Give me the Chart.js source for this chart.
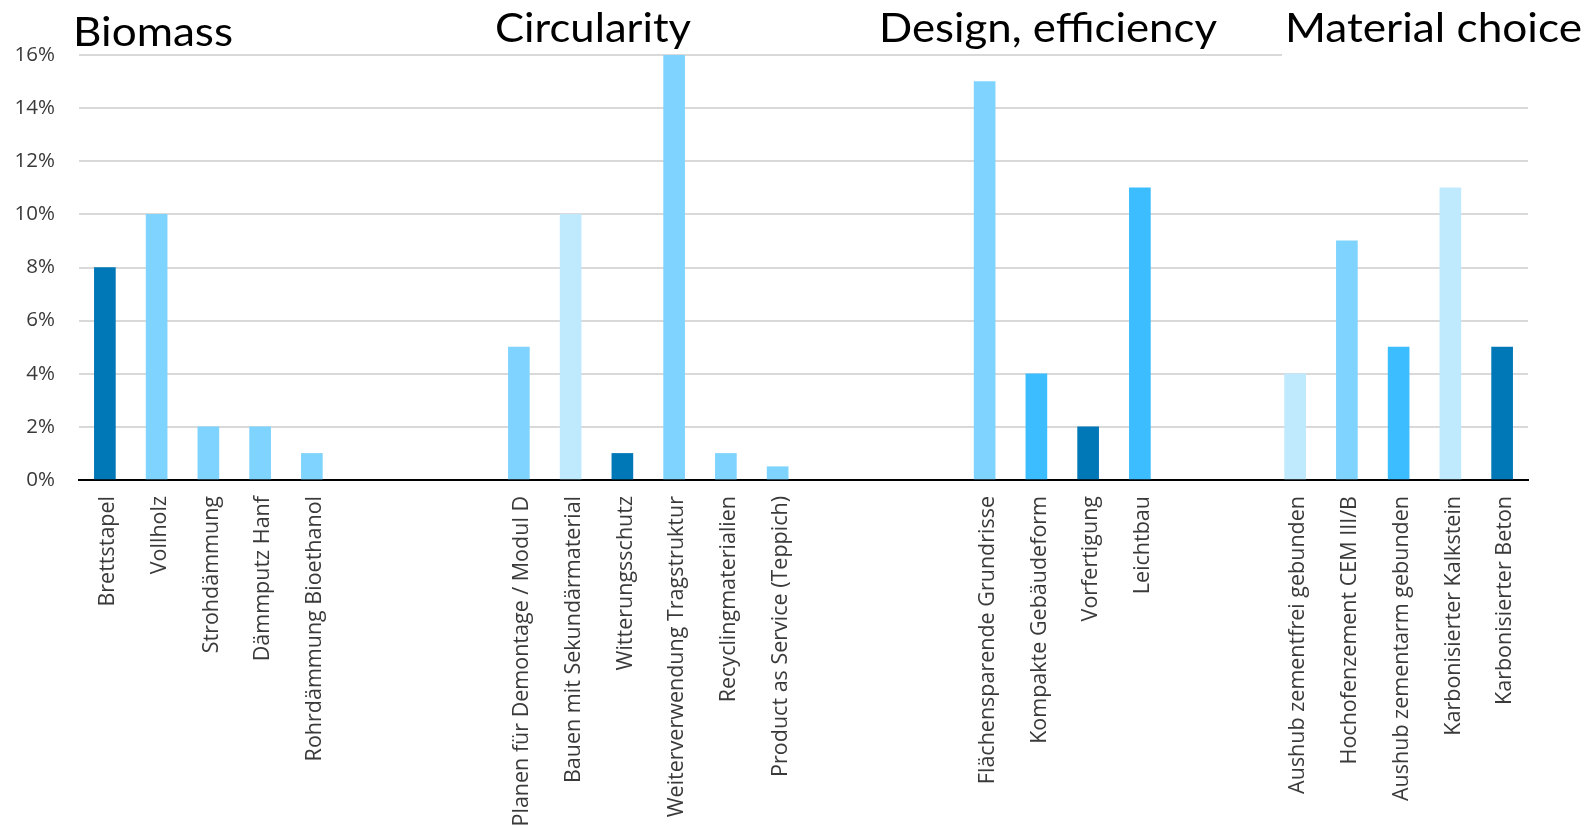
<!DOCTYPE html>
<html>
<head>
<meta charset="utf-8">
<script src="https://cdn.jsdelivr.net/npm/chart.js@4/dist/chart.umd.min.js"></script>
<style>
  html, body { margin: 0; padding: 0; background: #ffffff; }
  #wrap { width: 1587px; height: 829px; position: relative; }
</style>
</head>
<body>
<div id="wrap"><canvas id="chart"></canvas></div>
<script>
// Measures per category; empty strings are spacer slots between the groups.
const categories = [
  'Brettstapel', 'Vollholz', 'Strohdämmung', 'Dämmputz Hanf', 'Rohrdämmung Bioethanol',
  '', '', '',
  'Planen für Demontage / Modul D', 'Bauen mit Sekundärmaterial', 'Witterungsschutz',
  'Weiterverwendung Tragstruktur', 'Recyclingmaterialien', 'Product as Service (Teppich)',
  '', '', '',
  'Flächensparende Grundrisse', 'Kompakte Gebäudeform', 'Vorfertigung', 'Leichtbau',
  '', '',
  'Aushub zementfrei gebunden', 'Hochofenzement CEM III/B', 'Aushub zementarm gebunden',
  'Karbonisierter Kalkstein', 'Karbonisierter Beton'
];

// Share in percent
const shares = [
  8, 10, 2, 2, 1,
  null, null, null,
  5, 10, 1, 16, 1, 0.5,
  null, null, null,
  15, 4, 2, 11,
  null, null,
  4, 9, 5, 11, 5
];

// Shade of each bar
const shades = [
  'dark', 'light', 'light', 'light', 'light',
  null, null, null,
  'light', 'pale', 'dark', 'light', 'light', 'light',
  null, null, null,
  'light', 'mid', 'dark', 'mid',
  null, null,
  'pale', 'light', 'mid', 'pale', 'dark'
];

const groupTitles = ['Biomass', 'Circularity', 'Design, efficiency', 'Material choice'];

const yTicks = [0, 2, 4, 6, 8, 10, 12, 14, 16];

const palette = {
  dark: '#0077B6',
  light: '#7FD4FF',
  pale: '#BFE9FD',
  mid: '#3BBDFF'
};

// Group headings above the plot; the last one sits on a white box.
const titlePlugin = {
  id: 'groupTitles',
  afterDraw(chart, args, opts) {
    const ctx = chart.ctx;
    ctx.save();
    ctx.font = opts.font;
    ctx.textBaseline = 'alphabetic';
    ctx.textAlign = 'left';
    groupTitles.forEach((t, i) => {
      const p = opts.place[i];
      if (p.box) {
        ctx.fillStyle = '#ffffff';
        ctx.fillRect(p.x - 3, 0, chart.width - p.x + 3, 60);
      }
      const w = ctx.measureText(t).width;
      const sx = p.w / w;
      ctx.save();
      ctx.translate(p.x, p.y);
      ctx.scale(sx, 1);
      ctx.fillStyle = '#000000';
      ctx.fillText(t, 0, 0);
      ctx.restore();
    });
    ctx.restore();
  }
};

const ctx = document.getElementById('chart').getContext('2d');
new Chart(ctx, {
  type: 'bar',
  data: {
    labels: categories,
    datasets: [{
      data: shares,
      backgroundColor: shades.map(s => s ? palette[s] : 'rgba(0,0,0,0)'),
      borderWidth: 0,
      barThickness: 21
    }]
  },
  options: {
    responsive: true,
    maintainAspectRatio: false,
    animation: false,
    devicePixelRatio: 1,
    layout: { padding: { top: 55, right: 59, left: 0, bottom: 0 } },
    plugins: {
      legend: { display: false },
      tooltip: { enabled: false },
      groupTitles: {
        font: '41px Lato',
        place: [
          { x: 73, y: 46, w: 160 },
          { x: 495, y: 42, w: 196 },
          { x: 879, y: 42, w: 338 },
          { x: 1285, y: 42, w: 297, box: true }
        ]
      }
    },
    scales: {
      x: {
        grid: { display: false, drawTicks: false },
        border: { display: true, color: '#000000', width: 2 },
        ticks: {
          autoSkip: false,
          maxRotation: 90,
          minRotation: 90,
          padding: 16,
          labelOffset: 3,
          color: '#3a3a3a',
          font: { family: 'Open Sans', size: 21.5 }
        },
        afterFit(scale) { scale.height = 349; }
      },
      y: {
        min: 0,
        max: 16,
        afterBuildTicks(scale) { scale.ticks = yTicks.map(v => ({ value: v })); },
        grid: { color: '#d9d9d9', lineWidth: 2, drawTicks: false },
        border: { display: false },
        ticks: {
          padding: 24,
          color: '#3a3a3a',
          font: { family: 'Open Sans', size: 20.5 },
          callback: v => v + '%'
        },
        afterFit(scale) { scale.width = 79; }
      }
    }
  },
  plugins: [titlePlugin]
});
</script>
</body>
</html>
